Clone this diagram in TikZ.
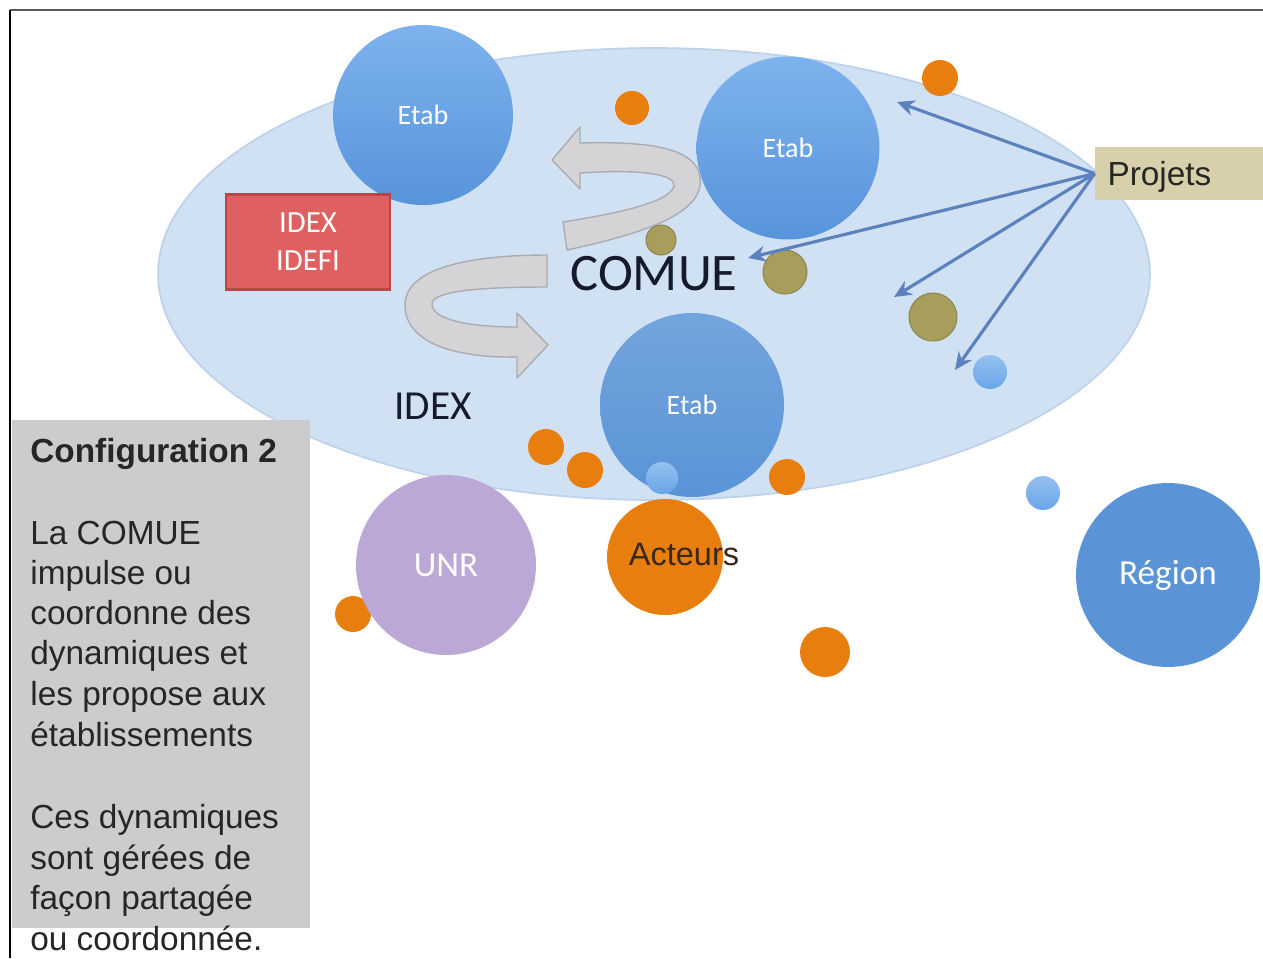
\documentclass[tikz,border=0pt]{standalone}
\usepackage{fontspec}
\setmainfont{Liberation Sans}
\newfontfamily\calfont{Carlito}
\usetikzlibrary{shapes.geometric,arrows.meta}
\definecolor{ellfill}{RGB}{208,225,243}
\definecolor{elldraw}{RGB}{190,210,235}
\definecolor{bluetop}{RGB}{125,178,238}
\definecolor{bluebot}{RGB}{88,148,218}
\definecolor{bluedark}{RGB}{90,148,215}
\definecolor{orng}{RGB}{232,126,14}
\definecolor{olive}{RGB}{168,158,92}
\definecolor{smallblue}{RGB}{105,165,232}
\definecolor{lavender}{RGB}{188,168,214}
\definecolor{redbox}{RGB}{222,96,96}
\definecolor{redborder}{RGB}{185,70,70}
\definecolor{tan}{RGB}{215,208,170}
\definecolor{arrowblue}{RGB}{92,130,190}
\definecolor{ribbon}{RGB}{212,212,215}
\definecolor{ribbonedge}{RGB}{170,172,178}
\definecolor{graybox}{RGB}{204,204,204}
\definecolor{navy}{RGB}{22,26,45}
\definecolor{acteurstext}{RGB}{60,40,25}
\tikzset{
  bigblue/.style={circle, inner sep=0pt, minimum size=#1, top color=bluetop, bottom color=bluebot, draw=none,
     text=white, font=\calfont\fontsize{16}{18}\selectfont},
  dot/.style={circle, inner sep=0pt, minimum size=#1, draw=none},
  odot/.style={dot=#1, fill=orng},
  gdot/.style={dot=#1, fill=olive, draw=olive!85!black, line width=0.6pt},
  bdot/.style={dot=#1, top color=smallblue!70!white, bottom color=smallblue},
  projarrow/.style={draw=arrowblue, line width=1.8pt, -{Stealth[length=10pt,width=9pt]}},
  ribbonshape/.style={fill=ribbon, draw=ribbonedge, line width=0.8pt, line join=round},
  boxtext/.style={anchor=base west, inner sep=0pt, font=\fontsize{19}{23}\selectfont, text=black!85}
}
\begin{document}
\begin{tikzpicture}[x=0.02cm,y=-0.02cm]
\useasboundingbox (0,0) rectangle (1263,958);
\fill[white] (0,0) rectangle (1263,958);

% frame
\draw[black!65, line width=0.8pt] (10,10) -- (1263,10);
\draw[black, line width=1.6pt] (10,10) -- (10,958);

% COMUE ellipse
\node[ellipse, fill=ellfill, draw=elldraw, line width=1pt, minimum width=19.84cm, minimum height=9.04cm,
      text=navy, font=\calfont\fontsize{30}{34}\selectfont] (comue) at (654,274) {COMUE};

% Etab circles
\node[bigblue=3.6cm] (etab1) at (423,115) {Etab};
\node[bigblue=3.66cm] (etab2) at (788,148) {Etab};
\node[bigblue=3.68cm, top color=bluedark!85!white, bottom color=bluedark] (etab3) at (692,405) {Etab};

% IDEX IDEFI box
\node[rectangle, fill=redbox, draw=redborder, line width=1.2pt, minimum width=3.28cm, minimum height=1.9cm,
      align=center, text=white, font=\calfont\fontsize{17.5}{21.6}\selectfont] (idefi) at (308,242) {IDEX\\IDEFI};

% IDEX label
\node[text=navy, font=\calfont\fontsize{23.5}{26}\selectfont] (idex) at (433,406) {IDEX};

% curved ribbon arrows
\path[ribbonshape] (567,250) .. controls (650,232) and (705,212) .. (700,177)
   .. controls (696,148) and (650,141) .. (580,143) -- (580,127) -- (552,160) -- (580,189) -- (580,173)
   .. controls (640,169) and (676,174) .. (674,186)
   .. controls (670,202) and (620,213) .. (563,222) -- cycle;
\path[ribbonshape] (547,255) .. controls (470,255) and (405,268) .. (405,305)
   .. controls (405,345) and (460,358) .. (517,357) -- (517,378) -- (548,345) -- (517,313) -- (517,327)
   .. controls (470,327) and (432,320) .. (432,304)
   .. controls (432,291) and (480,287) .. (547,287) -- cycle;

% small dots in/around the ellipse
\node[odot=0.68cm] (o1) at (632,108) {};
\node[odot=0.72cm] (o2) at (940,78) {};
\node[gdot=0.6cm] (g1) at (661,240) {};
\node[gdot=0.88cm] (g2) at (785,272) {};
\node[gdot=0.96cm] (g3) at (933,317) {};
\node[bdot=0.68cm] (b1) at (990,372) {};
\node[odot=0.72cm] (o3) at (546,447) {};
\node[odot=0.72cm] (o4) at (585,470) {};
\node[bdot=0.64cm] (b2) at (662,478) {};
\node[odot=0.72cm] (o5) at (787,477) {};
\node[bdot=0.68cm] (b3) at (1043,493) {};
\node[odot=0.72cm] (o6) at (353,614) {};
\node[odot=1cm] (o7) at (825,652) {};

% outer circles
\node[circle, inner sep=0pt, minimum size=3.6cm, fill=lavender, text=white,
      font=\calfont\fontsize{20}{22}\selectfont] (unr) at (446,565) {UNR};
\node[circle, inner sep=0pt, minimum size=2.32cm, fill=orng,
      label={[text=acteurstext, font=\fontsize{18.5}{20}\selectfont, xshift=0.38cm, yshift=0.06cm]center:Acteurs}] (acteurs) at (665,557) {};
\node[circle, inner sep=0pt, minimum size=3.68cm, fill=bluedark, text=white,
      font=\calfont\fontsize{20}{22}\selectfont] (region) at (1168,575) {Région};

% Projets box and arrows
\node[rectangle, fill=tan, minimum width=3.4cm, minimum height=1.06cm, text=black!85,
      font=\fontsize{19}{22}\selectfont, inner sep=0pt, text width=2.9cm, text depth=0pt, align=left] (projets) at (1180,173.5) {Projets};
\coordinate (p1) at (897,102);
\coordinate (p2) at (748,258);
\coordinate (p3) at (894,297);
\coordinate (p4) at (955,370);
\draw[projarrow] (projets.west) -- (p1);
\draw[projarrow] (projets.west) -- (p2);
\draw[projarrow] (projets.west) -- (p3);
\draw[projarrow] (projets.west) -- (p4);

% Configuration text box
\fill[graybox] (12,420) rectangle (310,928);
\node[boxtext, font=\bfseries\fontsize{19}{23}\selectfont] (cfg) at (30,462) {Configuration 2};
\foreach \t/\yy [count=\i] in {La COMUE/544, impulse ou/584, coordonne des/624, dynamiques et/664,
    les propose aux/705, établissements/746, Ces dynamiques/828, sont gérées de/869,
    façon partagée/909, ou coordonnée./950}
  \node[boxtext] (line\i) at (30,\yy) {\t};
\end{tikzpicture}
\end{document}
